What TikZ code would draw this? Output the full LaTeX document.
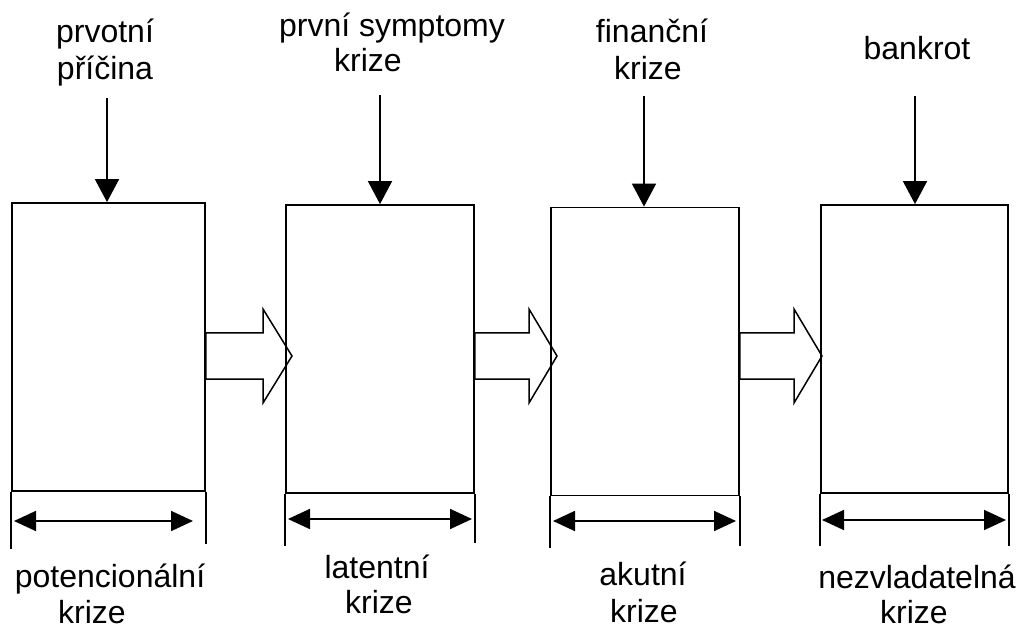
\documentclass[tikz,border=0pt]{standalone}
\usepackage{fontspec}
\setmainfont{Liberation Sans}
\usetikzlibrary{arrows.meta}
\begin{document}
\begin{tikzpicture}[x=1pt,y=-1pt,
  boxst/.style={draw, line width=1.8pt, inner sep=0pt, minimum height=288pt},
  lab/.style={font=\fontsize{32}{37}\selectfont, inner sep=0pt, anchor=base},
  topar/.style={line width=1.8pt, -{Triangle[length=23pt,width=24pt]}},
  dimar/.style={line width=1.8pt, {Triangle[length=22pt,width=20pt]}-{Triangle[length=22pt,width=20pt]}},
  ext/.style={line width=1.8pt},
  blk/.style={line width=1.5pt, line join=miter}]
\useasboundingbox (0,0) rectangle (1023,628);
% boxes
\node[boxst, minimum width=193pt] (b1) at (108.5,347) {};
\node[boxst, minimum width=188pt] (b2) at (380,349) {};
\node[boxst, minimum width=188pt] (b3) at (645,351.5) {};
\node[boxst, minimum width=187pt] (b4) at (914.5,349) {};
% vertical extensions
\draw[ext] (b1.south west) -- ++(0,57);
\draw[ext] (b1.south east) -- ++(0,52);
\draw[ext] (b2.south west) -- ++(0,52);
\draw[ext] (b2.south east) -- ++(0,49);
\draw[ext] (b3.south west) -- ++(0,52);
\draw[ext] (b3.south east) -- ++(0,50);
\draw[ext] (b4.south west) -- ++(0,52);
\draw[ext] (b4.south east) -- ++(0,52);
% dimension arrows
\coordinate (d1l) at (14,521); \coordinate (d1r) at (193,521);
\coordinate (d2l) at (288,519); \coordinate (d2r) at (472,519);
\coordinate (d3l) at (553,521); \coordinate (d3r) at (736,521);
\coordinate (d4l) at (822,520); \coordinate (d4r) at (1006,520);
\draw[dimar] (d1l) -- (d1r);
\draw[dimar] (d2l) -- (d2r);
\draw[dimar] (d3l) -- (d3r);
\draw[dimar] (d4l) -- (d4r);
% block arrows
\draw[blk] (b1.east |- 0,333) -- (263,333) -- (263,309) -- (292,356) -- (263,403) -- (263,379) -- (b1.east |- 0,379) -- cycle;
\draw[blk] (b2.east |- 0,333) -- (529,333) -- (529,309) -- (557,356) -- (529,403) -- (529,379) -- (b2.east |- 0,379) -- cycle;
\draw[blk] (b3.east |- 0,333) -- (794,333) -- (794,309) -- (822,356) -- (794,403) -- (794,379) -- (b3.east |- 0,379) -- cycle;
% top labels
\node[lab] (t1a) at (105,43) {prvotní};
\node[lab] (t1b) at (105,80) {příčina};
\node[lab] (t2a) at (392,37) {první symptomy};
\node[lab] (t2b) at (368,72) {krize};
\node[lab] (t3a) at (652,43) {finanční};
\node[lab] (t3b) at (648,80) {krize};
\node[lab] (t4a) at (917,60) {bankrot};
% top arrows
\coordinate (s1) at (107,98);
\coordinate (s2) at (380,95);
\coordinate (s3) at (644,96);
\coordinate (s4) at (915,96);
\draw[topar] (s1) -- (s1 |- b1.north);
\draw[topar] (s2) -- (s2 |- b2.north);
\draw[topar] (s3) -- (s3 |- b3.north);
\draw[topar] (s4) -- (s4 |- b4.north);
% bottom labels
\node[lab] (p1a) at (110,587) {potencionální};
\node[lab] (p1b) at (92,623) {krize};
\node[lab] (p2a) at (377,578) {latentní};
\node[lab] (p2b) at (379,613) {krize};
\node[lab] (p3a) at (643,585) {akutní};
\node[lab] (p3b) at (644,622) {krize};
\node[lab] (p4a) at (917,588) {nezvladatelná};
\node[lab] (p4b) at (914,623) {krize};
\end{tikzpicture}
\end{document}
